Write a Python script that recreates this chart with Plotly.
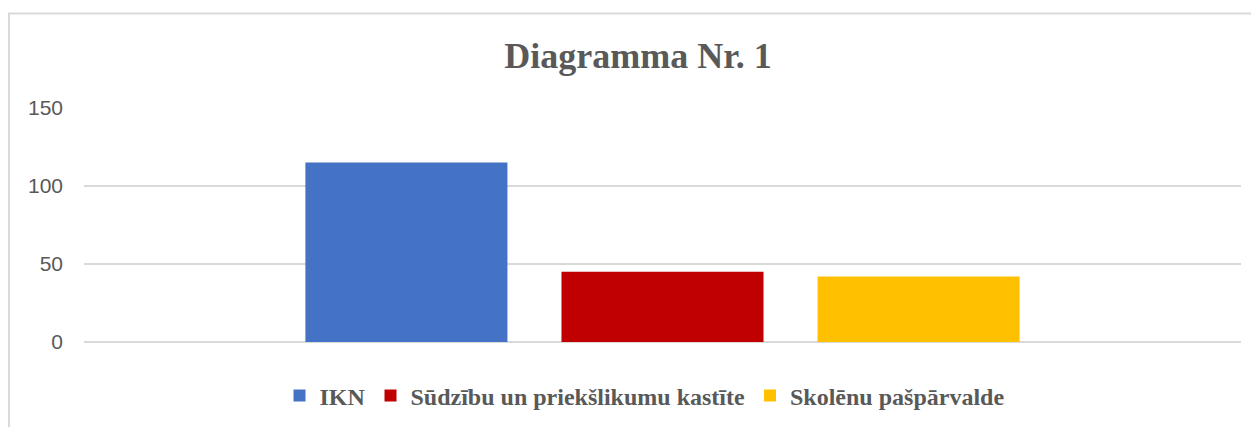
import plotly.graph_objects as go

categories = ["IKN", "Sūdzību un priekšlikumu kastīte", "Skolēnu pašpārvalde"]
values = [115, 45, 42]
colors = ["#4472C4", "#C00000", "#FFC000"]
group_label = [""]
y_ticks = [0, 50, 100, 150]

fig = go.Figure()
for name, val, col in zip(categories, values, colors):
    fig.add_trace(go.Bar(x=group_label, y=[val], name=name, marker=dict(color=col, line=dict(width=0))))

# page body adds an 8px offset; work in figure coordinates
OFF = 8
W, H = 1259 - OFF, 427 - OFF
L, R, T, B = 84 - OFF, 18, 108 - OFF, 85
pw = W - L - R
ph = H - T - B

def px_x(x):
    return (x - OFF - L) / pw

def px_y(y):
    return (H - B - (y - OFF)) / ph

fig.update_layout(
    width=W, height=H,
    margin=dict(l=L, r=R, t=T, b=B, autoexpand=False),
    paper_bgcolor="white", plot_bgcolor="white",
    barmode="group", bargap=0.336, bargroupgap=0.211,
    title=dict(text="<b>Diagramma Nr. 1</b>", x=px_x(638), xref="paper", xanchor="center",
               y=1 - (55 - OFF) / H, yref="container", yanchor="middle",
               font=dict(family="Liberation Serif", size=36, color="#595959")),
    showlegend=True,
    legend=dict(orientation="h", x=px_x(644.5), xanchor="center", y=px_y(396), yanchor="middle",
                font=dict(family="Liberation Serif", size=24, color="#595959", weight="bold"),
                itemsizing="constant", traceorder="normal", bgcolor="rgba(0,0,0,0)"),
    font=dict(family="Liberation Sans", color="#595959"),
)
fig.update_xaxes(showticklabels=False, showgrid=False, zeroline=False, showline=False, ticks="")
fig.update_yaxes(range=[0, 150], tickvals=y_ticks, showgrid=True, gridcolor="#D9D9D9", gridwidth=1.6,
                 zeroline=True, zerolinecolor="#D9D9D9", zerolinewidth=1.6, showline=False, ticks="",
                 tickfont=dict(family="Liberation Sans", size=21, color="#595959"), ticklabelstandoff=20)

border = dict(color="#D9D9D9", width=2)
fig.add_shape(type="line", xref="paper", yref="paper", x0=px_x(7), x1=px_x(1300), y0=px_y(13.5), y1=px_y(13.5), line=border)
fig.add_shape(type="line", xref="paper", yref="paper", x0=px_x(9), x1=px_x(9), y0=px_y(13), y1=px_y(440), line=border)

fig.write_html("out.html")
